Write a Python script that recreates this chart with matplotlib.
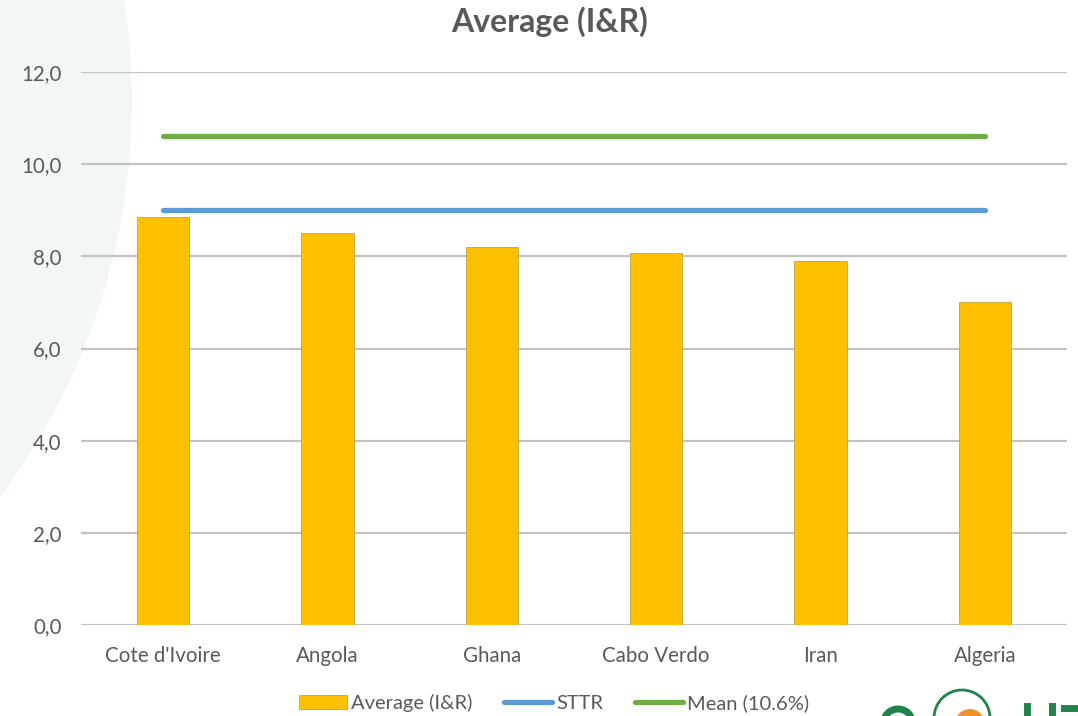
import matplotlib
matplotlib.use("Agg")
import matplotlib.pyplot as plt
from matplotlib.patches import Circle, Patch, Arc
from matplotlib.lines import Line2D

categories = ["Cote d'Ivoire", "Angola", "Ghana", "Cabo Verdo", "Iran", "Algeria"]
average_ir = [8.85, 8.51, 8.2, 8.08, 7.9, 7.01]
sttr = [9.0] * 6
mean_line = [10.62] * 6
yticks = [0, 2, 4, 6, 8, 10, 12]
ytick_labels = ["0,0", "2,0", "4,0", "6,0", "8,0", "10,0", "12,0"]

plt.rcParams['font.family'] = ['Lato', 'DejaVu Sans']
W, H = 1078, 716
fig = plt.figure(figsize=(W / 100, H / 100), dpi=100)
fig.patch.set_facecolor('white')

# background decoration: pale circle on the left
bg = fig.add_axes([0, 0, 1, 1], zorder=-10)
bg.set_xlim(0, W)
bg.set_ylim(H, 0)
bg.axis('off')
bg.add_patch(Circle((-531, 100), 663, facecolor='#F2F7F5', edgecolor='none'))
# logo hint bottom right (globe)
bg.add_patch(Circle((962, 718), 28, facecolor='none', edgecolor='#1E8449', lw=2))
bg.add_patch(Circle((970, 724), 15, facecolor='#F0922B', edgecolor='none'))
bg.add_patch(Arc((898, 722), 28, 26, theta1=160, theta2=360, edgecolor='#1E8449', lw=5))
bg.plot([1027, 1027], [706, 720], color='#1E8449', lw=5)
bg.plot([1052, 1052], [706, 720], color='#1E8449', lw=5)
bg.plot([1064, 1078], [708, 708], color='#1E8449', lw=5)

ax = fig.add_axes([81 / W, 1 - 625 / H, (1067 - 81) / W, (625 - 72) / H])
ax.set_facecolor('none')
x = list(range(len(categories)))
ax.bar(x, average_ir, width=0.32, color='#FFC000', edgecolor='#BFA24A', linewidth=0.6, zorder=3,
       label='Average (I&R)')
ax.plot(x, sttr, color='#5B9BD5', lw=3.8, solid_capstyle='round', zorder=4, label='STTR')
ax.plot(x, mean_line, color='#70AD47', lw=3.8, solid_capstyle='round', zorder=4, label='Mean (10.6%)')

ax.set_xlim(-0.5, 5.5)
ax.set_ylim(0, 12)
ax.set_yticks(yticks)
ax.set_yticklabels(ytick_labels)
ax.set_xticks(x)
ax.set_xticklabels(categories)
ax.yaxis.grid(True, color='#C3C3C3', lw=1.6, zorder=0)
ax.set_axisbelow(True)
for s in ax.spines.values():
    s.set_visible(False)
ax.tick_params(axis='both', length=0, labelsize=14.8, labelcolor='#595959')
ax.tick_params(axis='y', pad=14)
ax.tick_params(axis='x', pad=15)

fig.text(550 / W, 1 - 22 / H, "Average (I&R)", ha='center', va='center', fontsize=23,
         fontweight='bold', color='#595959')

handles = [Patch(facecolor='#FFC000', edgecolor='#BFA24A', lw=0.6),
           Line2D([], [], color='#5B9BD5', lw=3.8, solid_capstyle='round'),
           Line2D([], [], color='#70AD47', lw=3.8, solid_capstyle='round')]
labels = ['Average (I&R)', 'STTR', 'Mean (10.6%)']
leg = fig.legend(handles, labels, loc='center', bbox_to_anchor=(554 / W, 1 - 703 / H), ncol=3,
                 frameon=False, fontsize=14.5, handlelength=2.4, handletextpad=0.2,
                 columnspacing=1.55)
for t in leg.get_texts():
    t.set_color('#595959')

fig.savefig('out.png', dpi=100)
